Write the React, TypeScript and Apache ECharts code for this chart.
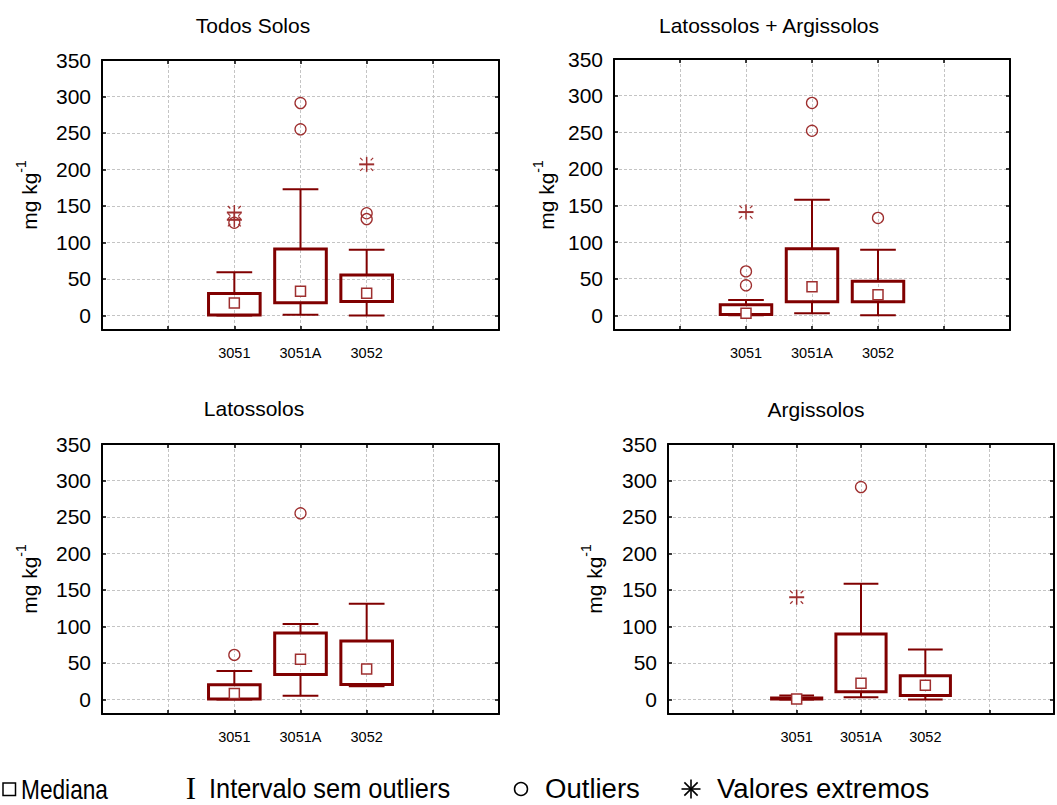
import React, { useEffect, useRef } from 'react';
import * as echarts from 'echarts';

const categories = ['3051', '3051A', '3052'];
const panelTitles = ['Todos Solos', 'Latossolos + Argissolos', 'Latossolos', 'Argissolos'];
const yMin = -20;
const yMax = 350;

// [lower whisker, Q1, median, Q3, upper whisker] per category
const todosBoxes = [[0, 0.5, 17, 30, 59], [1, 17.5, 33, 91, 173], [0, 19, 30.5, 55.5, 90]];
const todosOutliers = [[0, 127], [1, 291], [1, 255], [2, 140], [2, 132]];
const todosExtremes = [[0, 131], [0, 141], [2, 207]];

const latArgBoxes = [[0, 1, 3, 14.5, 21], [3, 18.5, 39, 91, 158], [0, 18.5, 28, 46.5, 89.5]];
const latArgOutliers = [[0, 60], [0, 41], [1, 290], [1, 252], [2, 133]];
const latArgExtremes = [[0, 141]];

const latBoxes = [[0, 0.5, 8, 20, 39], [5, 34, 55, 91, 103.5], [18, 20.5, 41.5, 80, 131]];
const latOutliers = [[0, 61], [1, 255]];
const latExtremes: number[][] = [];

const argBoxes = [[0, 0.5, 0.5, 2, 5.5], [3, 10.5, 22, 89.5, 158.5], [0, 5.5, 19.5, 32.5, 68.5]];
const argOutliers = [[1, 291]];
const argExtremes = [[0, 140]];

const legendLabels = ['Mediana', 'Intervalo sem outliers', 'Outliers', 'Valores extremos'];

const panelBoxes = [todosBoxes, latArgBoxes, latBoxes, argBoxes];
const panelOutliers = [todosOutliers, latArgOutliers, latOutliers, argOutliers];
const panelExtremes = [todosExtremes, latArgExtremes, latExtremes, argExtremes];

const FONT = 'Liberation Sans, Arial, sans-serif';
const DARK = '#800000';
const MARK = '#9e2f2f';

const layouts = [
  { left: 102, top: 60, width: 397, height: 270, titleX: 253, titleY: 25, nameX: 29, nameY: 195 },
  { left: 614, top: 59, width: 396, height: 271, titleX: 769, titleY: 25, nameX: 546, nameY: 195 },
  { left: 102, top: 444, width: 397, height: 270, titleX: 254, titleY: 408, nameX: 29, nameY: 579 },
  { left: 668, top: 444, width: 396, height: 270, titleX: 816, titleY: 409, nameX: 594, nameY: 579 },
];

function buildOption() {
  const grid = layouts.map((l) => ({ left: l.left, top: l.top, width: l.width, height: l.height }));
  const xAxis: any[] = [];
  const yAxis: any[] = [];
  const series: any[] = [];
  const graphic: any[] = [];
  const splitStyle = { color: '#c4c4c4', type: [3, 2], width: 1 };
  const lineStyle = { color: '#000', width: 2 };
  const tickStyle = { show: true, inside: true, length: 4, lineStyle: { color: '#000', width: 1.5 } };

  layouts.forEach((l, i) => {
    xAxis.push({
      type: 'value', gridIndex: i, position: 'bottom', min: 0, max: 6, interval: 1,
      axisLine: { show: true, onZero: false, lineStyle },
      axisTick: tickStyle,
      axisLabel: {
        formatter: (v: number) => categories[v - 2] ?? '',
        fontSize: 14.5, color: '#000', fontFamily: FONT, margin: 15,
      },
      splitLine: { show: true, lineStyle: splitStyle },
    });
    xAxis.push({
      type: 'value', gridIndex: i, position: 'top', min: 0, max: 6, interval: 1,
      axisLine: { show: true, onZero: false, lineStyle },
      axisTick: tickStyle,
      axisLabel: { show: false },
      splitLine: { show: false },
    });
    yAxis.push({
      type: 'value', gridIndex: i, position: 'left', min: yMin, max: yMax,
      splitNumber: 7, minInterval: 50, maxInterval: 50,
      axisLine: { show: true, onZero: false, lineStyle },
      axisTick: tickStyle,
      axisLabel: {
        formatter: (v: number) => (v < 0 ? '' : String(v)),
        fontSize: 21, color: '#000', fontFamily: FONT, margin: 11,
      },
      splitLine: { show: true, lineStyle: splitStyle },
    });
    yAxis.push({
      type: 'value', gridIndex: i, position: 'right', min: yMin, max: yMax,
      splitNumber: 7, minInterval: 50, maxInterval: 50,
      axisLine: { show: true, onZero: false, lineStyle },
      axisTick: tickStyle,
      axisLabel: { show: false },
      splitLine: { show: false },
    });

    const xi = 2 * i;
    const yi = 2 * i;
    series.push({
      type: 'custom', xAxisIndex: xi, yAxisIndex: yi, z: 3,
      data: panelBoxes[i].map((b, k) => [k + 2, ...b]),
      encode: { x: 0, y: [1, 2, 3, 4, 5] },
      renderItem: (_p: any, api: any) => {
        const x = api.value(0);
        const lo = api.coord([x, api.value(1)]);
        const q1 = api.coord([x, api.value(2)]);
        const q3 = api.coord([x, api.value(4)]);
        const hi = api.coord([x, api.value(5)]);
        const band = api.size([1, 0])[0];
        const bw = band * 0.78;
        const cw = band * 0.54;
        const cx = lo[0];
        const st = { stroke: DARK, lineWidth: 2 };
        return {
          type: 'group',
          children: [
            { type: 'line', shape: { x1: cx, y1: hi[1], x2: cx, y2: q3[1] }, style: st },
            { type: 'line', shape: { x1: cx, y1: q1[1], x2: cx, y2: lo[1] }, style: st },
            { type: 'line', shape: { x1: cx - cw / 2, y1: hi[1], x2: cx + cw / 2, y2: hi[1] }, style: st },
            { type: 'line', shape: { x1: cx - cw / 2, y1: lo[1], x2: cx + cw / 2, y2: lo[1] }, style: st },
            {
              type: 'rect',
              shape: { x: cx - bw / 2, y: q3[1], width: bw, height: Math.max(q1[1] - q3[1], 0.5) },
              style: { stroke: DARK, fill: 'rgba(255,255,255,0)', lineWidth: 3 },
            },
          ],
        };
      },
    });
    series.push({
      type: 'scatter', xAxisIndex: xi, yAxisIndex: yi, z: 4,
      symbol: 'rect', symbolSize: 10,
      itemStyle: { color: '#fff', borderColor: MARK, borderWidth: 1.5, opacity: 1 },
      data: panelBoxes[i].map((b, k) => [k + 2, b[2]]),
    });
    series.push({
      type: 'scatter', xAxisIndex: xi, yAxisIndex: yi, z: 4,
      symbol: 'circle', symbolSize: 11,
      itemStyle: { color: 'rgba(255,255,255,0)', borderColor: MARK, borderWidth: 1.3, opacity: 1 },
      data: panelOutliers[i].map(([k, v]) => [k + 2, v]),
    });
    series.push({
      type: 'custom', xAxisIndex: xi, yAxisIndex: yi, z: 4,
      data: panelExtremes[i].map(([k, v]) => [k + 2, v]),
      encode: { x: 0, y: 1 },
      renderItem: (_p: any, api: any) => {
        const p = api.coord([api.value(0), api.value(1)]);
        const r = 7.5;
        const children: any[] = [
          { type: 'line', shape: { x1: p[0] - r, y1: p[1], x2: p[0] + r, y2: p[1] }, style: { stroke: MARK, lineWidth: 2 } },
          { type: 'line', shape: { x1: p[0], y1: p[1] - r, x2: p[0], y2: p[1] + r }, style: { stroke: MARK, lineWidth: 1.5 } },
        ];
        [[1, 1], [1, -1], [-1, 1], [-1, -1]].forEach(([sx, sy]) => {
          children.push({
            type: 'line',
            shape: { x1: p[0] + sx * 4, y1: p[1] + sy * 4, x2: p[0] + sx * 6.5, y2: p[1] + sy * 6.5 },
            style: { stroke: MARK, lineWidth: 1.2 },
          });
        });
        return { type: 'group', children };
      },
    });

    graphic.push({
      type: 'text', x: l.titleX, y: l.titleY,
      style: { text: panelTitles[i], fontSize: 21, fontFamily: FONT, fill: '#000', align: 'center', verticalAlign: 'middle' },
    });
    graphic.push({
      type: 'text', x: l.nameX, y: l.nameY, rotation: Math.PI / 2,
      style: {
        text: '{a|mg kg}{b|-1}',
        align: 'center', verticalAlign: 'middle',
        rich: {
          a: { fontSize: 21, fontFamily: FONT, fill: '#000', lineHeight: 30 },
          b: { fontSize: 14, fontFamily: FONT, fill: '#000', lineHeight: 14, verticalAlign: 'top' },
        },
      },
    });
  });

  // legend
  const ly = 789;
  const lf = { fontSize: 27, fontFamily: FONT, fill: '#000', verticalAlign: 'middle', align: 'left' };
  graphic.push({ type: 'rect', shape: { x: 3, y: ly - 6, width: 12.5, height: 12.5 }, style: { stroke: '#000', fill: '#fff', lineWidth: 1.5 } });
  graphic.push({ type: 'text', x: 21, y: ly, scaleX: 0.84, style: { ...lf, text: legendLabels[0] } });
  graphic.push({ type: 'text', x: 191, y: ly - 1, style: { text: 'I', fontSize: 31, fontFamily: 'Liberation Serif, serif', fill: '#000', align: 'center', verticalAlign: 'middle' } });
  graphic.push({ type: 'text', x: 209, y: ly, scaleX: 0.94, style: { ...lf, text: legendLabels[1] } });
  graphic.push({ type: 'circle', shape: { cx: 521, cy: ly, r: 6.5 }, style: { stroke: '#000', fill: '#fff', lineWidth: 1.5 } });
  graphic.push({ type: 'text', x: 545, y: ly, scaleX: 1.02, style: { ...lf, text: legendLabels[2] } });
  const ax = 691;
  const ar = 9.5;
  [[ar, 0], [0, ar], [ar * 0.7, ar * 0.7], [ar * 0.7, -ar * 0.7]].forEach(([dx, dy]) => {
    graphic.push({ type: 'line', shape: { x1: ax - dx, y1: ly - dy, x2: ax + dx, y2: ly + dy }, style: { stroke: '#000', lineWidth: 1.6 } });
  });
  graphic.push({ type: 'text', x: 717, y: ly, scaleX: 1.02, style: { ...lf, text: legendLabels[3] } });

  return {
    animation: false,
    backgroundColor: '#fff',
    grid, xAxis, yAxis, series, graphic,
  };
}

export default function App() {
  const ref = useRef<HTMLDivElement>(null);
  useEffect(() => {
    if (!ref.current) return;
    const chart = echarts.init(ref.current, null, { renderer: 'svg' });
    chart.setOption(buildOption() as any);
    return () => chart.dispose();
  }, []);
  return <div ref={ref} style={{ position: 'fixed', left: 0, top: 0, width: 1057, height: 805, background: '#fff' }} />;
}
